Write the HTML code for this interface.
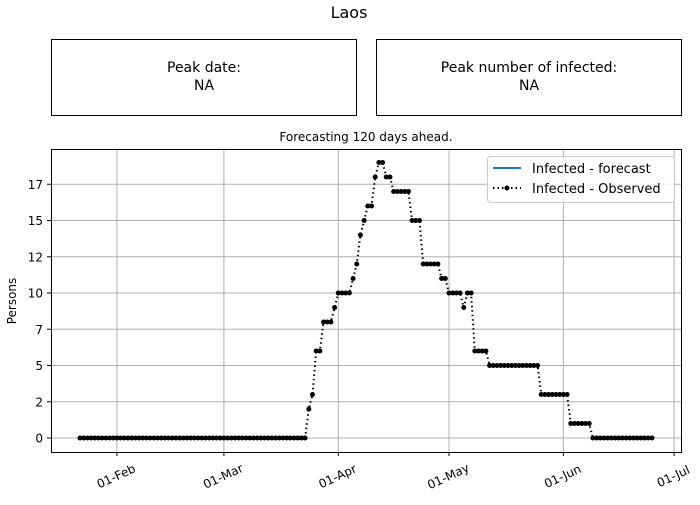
<!DOCTYPE html>
<html><head><meta charset="utf-8"><style>
body{margin:0;background:#fff;}
svg{font-family:"DejaVu Sans","Liberation Sans",sans-serif;}
</style></head><body>
<svg id="chart" width="700" height="500" viewBox="0 0 700 500" xmlns="http://www.w3.org/2000/svg">
<rect width="700" height="500" fill="#fff"/>
<text x="349" y="18" font-size="16" text-anchor="middle">Laos</text>
<rect x="51.5" y="39.5" width="305" height="76" fill="none" stroke="#000"/>
<text x="204" y="72" font-size="14" text-anchor="middle">Peak date:</text>
<text x="204" y="90" font-size="14" text-anchor="middle">NA</text>
<rect x="376.5" y="39.5" width="305" height="76" fill="none" stroke="#000"/>
<text x="529" y="72" font-size="14" text-anchor="middle">Peak number of infected:</text>
<text x="529" y="90" font-size="14" text-anchor="middle">NA</text>
<text x="366" y="141" font-size="12" text-anchor="middle">Forecasting 120 days ahead.</text>
<text transform="translate(16,301) rotate(-90)" font-size="12" text-anchor="middle">Persons</text>
<g id="grid"></g>
<g id="series"></g>
<g id="ticks"></g>
<rect x="51.5" y="149.5" width="630" height="303" fill="none" stroke="#000"/>
<g>
<rect x="487.5" y="156.5" width="187" height="46" rx="3" fill="#fff" fill-opacity="0.85" stroke="#ccc"/>
<line x1="493" y1="168" x2="521" y2="168" stroke="#1f77b4" stroke-width="2"/>
<text x="532" y="173" font-size="13">Infected - forecast</text>
<line x1="493" y1="188" x2="521" y2="188" stroke="#000" stroke-width="2" stroke-dasharray="1.5,3"/>
<circle cx="507" cy="188" r="2.5" fill="#000"/>
<text x="532" y="193" font-size="13">Infected - Observed</text>
</g>
</svg>
<script>
// day 0 = 22-Jan
const observed = [].concat(
  Array(62).fill(0),
  [2,3,6,6,8,8,8,9,10,10,10,10,11,12,14,15,16,16,18,19,19,18,18,17,17,17,17,17,15,15,15,12,12,12,12,12,11,11,10,10,10,10,9,10,10,6,6,6,6],
  Array(14).fill(5), Array(8).fill(3), Array(6).fill(1), Array(17).fill(0)
);
const yTickValues = [0,2.5,5,7.5,10,12.5,15,17.5];
const yTickLabels = ['0','2','5','7','10','12','15','17'];
const xTickDays = [10,39,70,100,131,161];
const xTickLabels = ['01-Feb','01-Mar','01-Apr','01-May','01-Jun','01-Jul'];

const NS='http://www.w3.org/2000/svg';
const xs = d => 80 + d*3.69;
const ys = v => 438 - v*14.5;
function mk(tag, attrs, parent){const e=document.createElementNS(NS,tag);for(const k in attrs)e.setAttribute(k,attrs[k]);parent.appendChild(e);return e;}
const grid=document.getElementById('grid'), ticks=document.getElementById('ticks'), series=document.getElementById('series');
yTickValues.forEach((v,i)=>{
  const y=ys(v);
  const g=mk('line',{x1:51,x2:681,y1:y,y2:y,stroke:'#b0b0b0','stroke-width':1},grid);
  
  
  mk('line',{x1:47,x2:51,y1:y,y2:y,stroke:'#000'},ticks);
  const t=mk('text',{x:43,y:y+4.5,'font-size':12,'text-anchor':'end'},ticks);
  t.textContent=yTickLabels[i];
  
  
});
xTickDays.forEach((d,i)=>{
  const x=xs(d);
  const g=mk('line',{x1:x,x2:x,y1:149,y2:452,stroke:'#b0b0b0','stroke-width':1},grid);
  
  
  mk('line',{x1:x,x2:x,y1:452,y2:456,stroke:'#000'},ticks);
  const t=mk('text',{transform:`translate(${x+1},480) rotate(-25)`,'font-size':12,'text-anchor':'middle'},ticks);
  t.textContent=xTickLabels[i];
  
  
});
const pts=observed.map((v,d)=>xs(d).toFixed(1)+','+ys(v).toFixed(1)).join(' ');
const line=mk('polyline',{points:pts,fill:'none',stroke:'#000','stroke-width':2,'stroke-dasharray':'1.5,3'},series);


observed.forEach((v,d)=>{
  const c=mk('circle',{cx:xs(d),cy:ys(v),r:2.5,fill:'#000'},series);
  
  
});
</script>
</body></html>
